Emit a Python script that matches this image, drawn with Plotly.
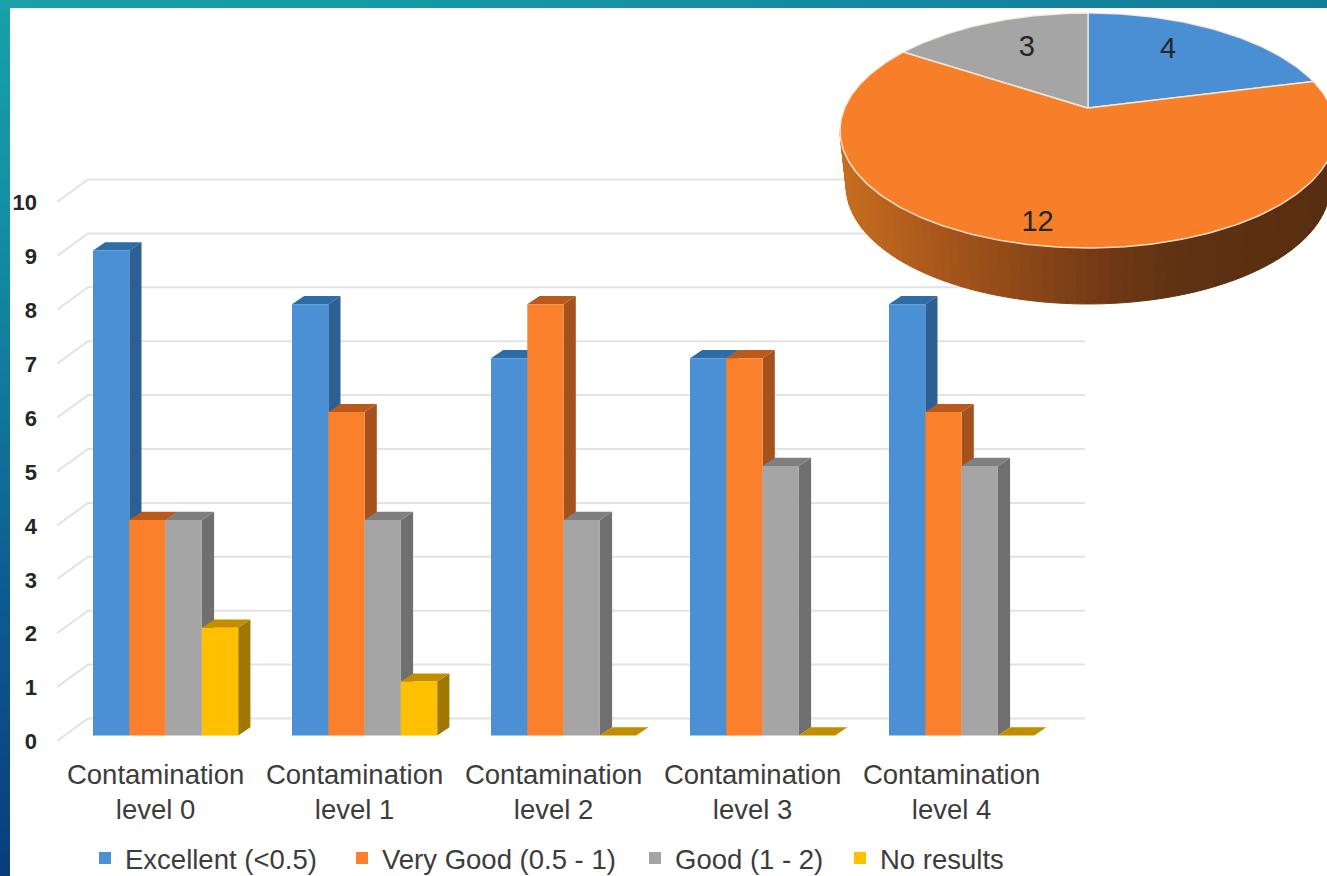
import math
import plotly.graph_objects as go

# ---- chart data ----
categories = ["Contamination<br>level 0", "Contamination<br>level 1", "Contamination<br>level 2",
              "Contamination<br>level 3", "Contamination<br>level 4"]
series_names = ["Excellent (<0.5)", "Very Good (0.5 - 1)", "Good (1 - 2)", "No results"]
excellent = [9, 8, 7, 7, 8]
very_good = [4, 6, 8, 7, 6]
good = [4, 4, 4, 5, 5]
no_results = [2, 1, 0, 0, 0]
y_ticks = list(range(0, 11))

pie_values = [4, 12, 3]
pie_colors = ["#4a8fd3", "#f77f2a", "#a5a5a5"]
pie_label_angles = [33, 191.5, 334.5]
pie_label_radii = [0.67, 0.87, 0.65]

front_colors = ["#4a90d5", "#fb802b", "#a5a5a5", "#ffc000"]
side_colors = ["#2c5f94", "#a5511b", "#6f6f6f", "#a07700"]
top_colors = ["#2e6ca6", "#b9591b", "#7f7f7f", "#c28e00"]

# ---- canvas and axis geometry ----
W, H = 1327, 876
PLOT_H = 820.5                     # height left for the axes once the legend row is reserved
PX_X, PX_Y = 199.0, 53.9           # pixels per category / per value unit
CAT0_PX, BASE_PX = 165.6, 735.5    # pixel position of category 0 and value 0
LEFT_PX, RIGHT_PX = 57, 1090
BOTTOM_PX, TOP_PX = 741, 170
BAR_W = 36.3 / PX_X
DX, DY = 12.2 / PX_X, 8.2 / PX_Y   # depth of the bars in data units
GRID_BACK_X, GRID_FRONT_Y, GRID_BACK_Y = 31 / PX_X, -5.5 / PX_Y, 17.0 / PX_Y
GRID_END = (1085 - CAT0_PX) / PX_X
LEGEND_TEXT_PX = [125, 382, 675, 880]   # left edge of each legend label


def paper_y(px):
    return 1 - px / PLOT_H


x_range = [(LEFT_PX - CAT0_PX) / PX_X, (RIGHT_PX - CAT0_PX) / PX_X]
y_range = [(BASE_PX - BOTTOM_PX) / PX_Y, (BASE_PX - TOP_PX) / PX_Y]
x_domain = [LEFT_PX / W, RIGHT_PX / W]
y_domain = [paper_y(BOTTOM_PX), paper_y(TOP_PX)]

fig = go.Figure()

# Back wall gridlines with the short diagonal on the left wall
grid_x, grid_y = [], []
for v in y_ticks:
    grid_x += [x_range[0], x_range[0] + GRID_BACK_X, GRID_END, None]
    grid_y += [v + GRID_FRONT_Y, v + GRID_BACK_Y, v + GRID_BACK_Y, None]
fig.add_trace(go.Scatter(x=grid_x, y=grid_y, mode="lines", line=dict(color="#e3e3e3", width=2),
                         showlegend=False, hoverinfo="skip", xaxis="x", yaxis="y"))

# Extruded side and top faces of each column, painted series by series
all_series = [excellent, very_good, good, no_results]
for j, values in enumerate(all_series):
    sx, sy, tx, ty = [], [], [], []
    for i, v in enumerate(values):
        left = i + (j - 2) * BAR_W
        right = left + BAR_W
        sx += [right, right + DX, right + DX, right, right, None]
        sy += [0, DY, v + DY, v, 0, None]
        tx += [left, left + DX, right + DX, right, left, None]
        ty += [v, v + DY, v + DY, v, v, None]
    fig.add_trace(go.Scatter(x=sx, y=sy, mode="lines", fill="toself", fillcolor=side_colors[j],
                             line=dict(width=0), showlegend=False, hoverinfo="skip",
                             xaxis="x", yaxis="y"))
    fig.add_trace(go.Scatter(x=tx, y=ty, mode="lines", fill="toself", fillcolor=top_colors[j],
                             line=dict(width=0), showlegend=False, hoverinfo="skip",
                             xaxis="x", yaxis="y"))

# Front faces sit on an overlaid copy of the axes so they cover the extruded faces.
# Each series has its own legend box so the entries can be spaced individually.
legend_ids = ["legend", "legend2", "legend3", "legend4"]
for j, values in enumerate(all_series):
    fig.add_trace(go.Bar(x=list(range(len(categories))), y=values, name=series_names[j],
                         width=BAR_W, offset=(j - 2) * BAR_W,
                         marker=dict(color=front_colors[j], line=dict(width=0)),
                         legend=legend_ids[j], showlegend=True, xaxis="x2", yaxis="y2"))

# ---- perspective pie, drawn on a full canvas axis pair in pixel units ----
PIE_CX, PIE_APEX_Y = 1088.0, 108.0
PIE_R, PIE_A, PIE_C = 243.4, 92.5, 0.1915
PIE_DEPTH, PIE_BOTTOM_SCALE = 56.0, 0.975


def project(u, v):
    w = 1 + PIE_C * v
    return PIE_CX + PIE_R * u / w, (PIE_APEX_Y - PIE_A * v) / w


def lerp_color(stops, x):
    for (x0, c0), (x1, c1) in zip(stops, stops[1:]):
        if x <= x1:
            f = max(0.0, (x - x0) / (x1 - x0))
            return "rgb(%d,%d,%d)" % tuple(round(a + (b - a) * f) for a, b in zip(c0, c1))
    return "rgb(%d,%d,%d)" % stops[-1][1]


rim_stops = [(845, (198, 108, 30)), (930, (170, 88, 28)), (1010, (145, 74, 24)),
             (1100, (116, 58, 22)), (1180, (94, 50, 18)), (1330, (88, 46, 16))]

RIM_STEPS = 72
rim_start, rim_end = 259.0, 101.0
for k in range(RIM_STEPS):
    t0 = math.radians(rim_start + (rim_end - rim_start) * k / RIM_STEPS)
    t1 = math.radians(rim_start + (rim_end - rim_start) * (k + 1) / RIM_STEPS)
    x0, y0 = project(math.sin(t0), math.cos(t0))
    x1, y1 = project(math.sin(t1), math.cos(t1))
    bx0 = PIE_CX + (x0 - PIE_CX) * PIE_BOTTOM_SCALE
    bx1 = PIE_CX + (x1 - PIE_CX) * PIE_BOTTOM_SCALE
    color = lerp_color(rim_stops, (x0 + x1) / 2)
    fig.add_trace(go.Scatter(x=[x0, x1, bx1, bx0, x0], y=[y0, y1, y1 + PIE_DEPTH, y0 + PIE_DEPTH, y0],
                             mode="lines", fill="toself", fillcolor=color, line=dict(color=color, width=1),
                             showlegend=False, hoverinfo="skip", xaxis="x3", yaxis="y3"))

total = sum(pie_values)
start = 0.0
for value, color in zip(pie_values, pie_colors):
    sweep = 360.0 * value / total
    n = max(8, int(sweep))
    pts = [project(math.sin(math.radians(start + sweep * s / n)), math.cos(math.radians(start + sweep * s / n)))
           for s in range(n + 1)]
    apex = project(0, 0)
    fig.add_trace(go.Scatter(x=[apex[0]] + [p[0] for p in pts] + [apex[0]],
                             y=[apex[1]] + [p[1] for p in pts] + [apex[1]],
                             mode="lines", fill="toself", fillcolor=color,
                             line=dict(color="rgba(250,240,230,0.85)", width=1.5),
                             showlegend=False, hoverinfo="skip", xaxis="x3", yaxis="y3"))
    start += sweep

label_pts = [project(r * math.sin(math.radians(a)), r * math.cos(math.radians(a)))
             for a, r in zip(pie_label_angles, pie_label_radii)]
fig.add_trace(go.Scatter(x=[p[0] for p in label_pts], y=[p[1] for p in label_pts], mode="text",
                         text=[str(v) for v in pie_values], textposition="middle center",
                         textfont=dict(family="Liberation Sans", size=29, color="#262626"),
                         showlegend=False, hoverinfo="skip", xaxis="x3", yaxis="y3"))

# ---- slide frame: gradient strips along the top and left edges ----
left_stops = [(0, (26, 160, 168)), (200, (20, 145, 165)), (400, (16, 120, 155)),
              (600, (14, 90, 145)), (876, (11, 60, 125))]
top_stops = [(0, (26, 160, 168)), (500, (22, 150, 165)), (900, (20, 135, 160)), (1327, (18, 125, 150))]
shapes = []
for y0 in range(0, H, 12):
    shapes.append(dict(type="rect", xref="paper", yref="paper", layer="below",
                       x0=0, x1=10 / W, y0=paper_y(y0), y1=paper_y(y0 + 13),
                       fillcolor=lerp_color(left_stops, y0 + 6), line=dict(width=0)))
for x0 in range(0, W, 16):
    shapes.append(dict(type="rect", xref="paper", yref="paper", layer="below",
                       x0=x0 / W, x1=(x0 + 17) / W, y0=1, y1=paper_y(8),
                       fillcolor=lerp_color(top_stops, x0 + 8), line=dict(width=0)))

legend_base = dict(orientation="h", xref="container", yref="container", xanchor="left", yanchor="middle",
                   y=1 - 858 / H, font=dict(size=27.5, color="#3c3c3c"), bgcolor="rgba(0,0,0,0)",
                   itemclick=False, itemdoubleclick=False)
# Labels start 40 px after the legend box's own left edge
legend_layout = {lid: dict(legend_base, x=(px - 40) / W) for lid, px in zip(legend_ids, LEGEND_TEXT_PX)}

hidden = dict(visible=False, showgrid=False, zeroline=False)
fig.update_layout(
    width=W, height=H, autosize=False,
    margin=dict(l=0, r=0, t=0, b=0),
    paper_bgcolor="white", plot_bgcolor="rgba(0,0,0,0)",
    barmode="overlay", shapes=shapes,
    font=dict(family="Liberation Sans", color="#3c3c3c"),
    xaxis=dict(domain=x_domain, range=x_range, tickmode="array",
               tickvals=list(range(len(categories))), ticktext=categories,
               ticklen=0, showgrid=False, zeroline=False, showline=False,
               ticklabelshift=-10, ticklabelstandoff=14,
               tickfont=dict(size=27.5, color="#3c3c3c")),
    yaxis=dict(domain=y_domain, range=y_range, tickmode="array",
               tickvals=y_ticks, ticktext=[str(v) for v in y_ticks],
               ticklen=0, showgrid=False, zeroline=False, showline=False,
               ticklabelshift=6, ticklabelstandoff=19,
               tickfont=dict(size=22, color="#262626", weight=700)),
    xaxis2=dict(range=x_range, overlaying="x", anchor="y2", **hidden),
    yaxis2=dict(range=y_range, overlaying="y", anchor="x2", **hidden),
    xaxis3=dict(domain=[0, 1], range=[0, W], anchor="y3", **hidden),
    yaxis3=dict(domain=[0, 1], range=[PLOT_H, 0], anchor="x3", **hidden),
    **legend_layout,
)

fig.write_html("out.html")
